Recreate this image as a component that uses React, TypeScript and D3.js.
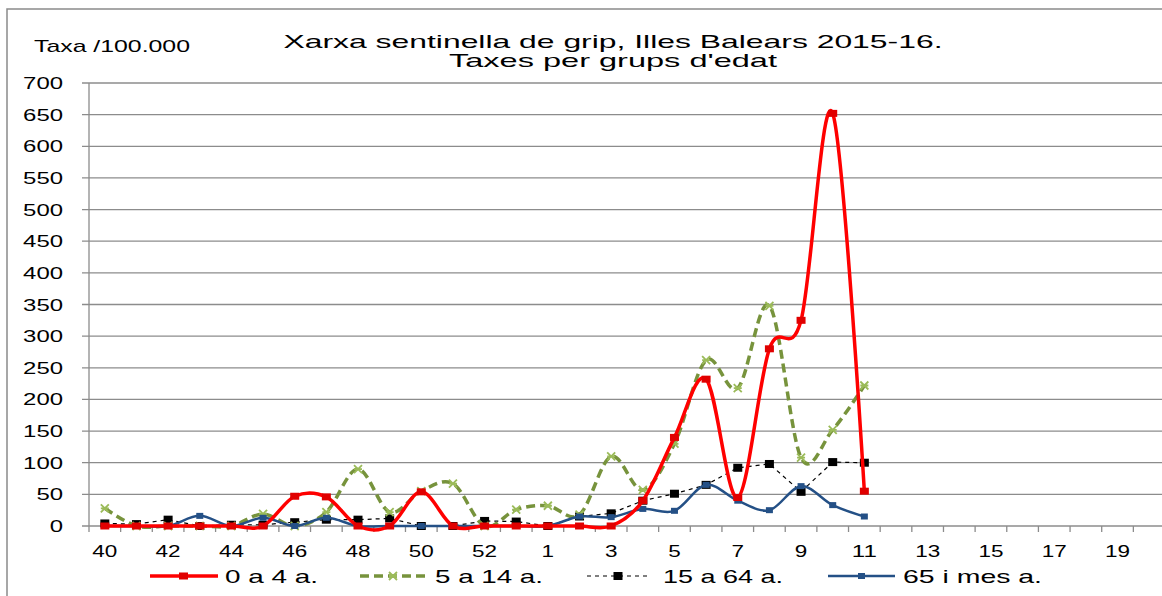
import React from 'react';
import * as d3 from 'd3';

// setmanes epidemiològiques (40..53, 1..20)
const weeks = ['40','41','42','43','44','45','46','47','48','49','50','51','52','53',
  '1','2','3','4','5','6','7','8','9','10','11','12','13','14','15','16','17','18','19','20'];

const age0_4 = [0,0,0,0,0,0,47,46,0,0,54,0,0,0,0,0,0,40,140,232,45,280,325,652,55];
const age5_14 = [28,0,0,0,0,19,0,22,90,22,55,67,0,26,32,18,110,57,130,262,218,348,108,152,222];
const age15_64 = [4,3,10,0,2,2,6,10,10,12,0,0,8,7,0,15,20,40,51,65,92,98,54,101,100];
const age65 = [0,0,0,16,0,13,0,13,0,0,0,0,0,0,0,15,14,27,24,65,40,25,63,33,15];

const yTicks = d3.range(0, 701, 50);

const W = 1162, H = 596;
const left = 89, right = 1165, top = 83, bottom = 526;

export default function App() {
  const x = d3.scaleBand().domain(weeks).range([left, right]);
  const y = d3.scaleLinear().domain([0, 700]).range([bottom, top]);
  const cx = (i: number) => (x(weeks[i]) as number) + x.bandwidth() / 2;

  const smooth = d3.line<number>().x((d, i) => cx(i)).y(d => y(d)).curve(d3.curveCardinal.tension(0));
  const straight = d3.line<number>().x((d, i) => cx(i)).y(d => y(d));

  const xMark = (px: number, py: number, k: string) => (
    <path key={k} d={`M${px-4},${py-4}L${px+4},${py+4}M${px-4},${py+4}L${px+4},${py-4}M${px-4},${py}L${px+4},${py}`}
      stroke="#9BBB59" strokeWidth={1.8} fill="none" />
  );

  const font = 'Liberation Sans, Arial, sans-serif';

  return (
    <svg width={W} height={H} style={{ position: 'absolute', left: 0, top: 0, background: '#fff' }} fontFamily={font}>
      <rect x={7} y={9} width={1170} height={600} fill="#fff" stroke="#8a8a8a" strokeWidth={1.5} />

      <text x={34} y={52} fontSize={17} textLength={156} lengthAdjust="spacingAndGlyphs">Taxa /100.000</text>
      <text x={613} y={48} fontSize={19} textAnchor="middle" textLength={659} lengthAdjust="spacingAndGlyphs">
        Xarxa sentinella de grip, Illes Balears 2015-16.
      </text>
      <text x={613} y={67} fontSize={19} textAnchor="middle" textLength={328} lengthAdjust="spacingAndGlyphs">
        Taxes per grups d'edat
      </text>

      {/* graella */}
      {yTicks.map(t => (
        <g key={t}>
          <line x1={left - 7} x2={W} y1={y(t)} y2={y(t)} stroke="#8c8c8c" strokeWidth={1.3} />
          <text x={63} y={y(t) + 6} fontSize={16} textAnchor="end"
            textLength={String(t).length * 13.3} lengthAdjust="spacingAndGlyphs">{t}</text>
        </g>
      ))}
      <line x1={left} x2={left} y1={top} y2={bottom} stroke="#8c8c8c" strokeWidth={1.3} />
      {weeks.map((w, i) => (
        <line key={'t' + w} x1={x(w) as number} x2={x(w) as number} y1={bottom} y2={bottom + 6} stroke="#8c8c8c" strokeWidth={1.3} />
      ))}
      {weeks.map((w, i) => i % 2 === 0 ? (
        <text key={'l' + w} x={cx(i)} y={557} fontSize={16} textAnchor="middle"
          textLength={w.length * 12.5} lengthAdjust="spacingAndGlyphs">{w}</text>
      ) : null)}

      {/* sèries */}
      <path d={straight(age15_64) || ''} fill="none" stroke="#000" strokeWidth={1.2} strokeDasharray="4,4" />
      {age15_64.map((v, i) => <rect key={'b' + i} x={cx(i) - 4.5} y={y(v) - 4} width={9} height={8} fill="#000" />)}

      <path d={smooth(age5_14) || ''} fill="none" stroke="#77933C" strokeWidth={3.5} strokeDasharray="9,5" />
      {age5_14.map((v, i) => xMark(cx(i), y(v), 'g' + i))}

      <path d={smooth(age65) || ''} fill="none" stroke="#245086" strokeWidth={2.5} />
      {age65.map((v, i) => <rect key={'u' + i} x={cx(i) - 3.5} y={y(v) - 3} width={7} height={6} fill="#245086" />)}

      <path d={smooth(age0_4) || ''} fill="none" stroke="#FF0000" strokeWidth={3.5} />
      {age0_4.map((v, i) => <rect key={'r' + i} x={cx(i) - 4.5} y={y(v) - 3.5} width={9} height={7} fill="#E00000" />)}

      {/* llegenda */}
      <g fontSize={19}>
        <line x1={150} x2={218} y1={576} y2={576} stroke="#FF0000" strokeWidth={3.5} />
        <rect x={179} y={572.5} width={9} height={7} fill="#E00000" />
        <text x={225} y={583} textLength={93} lengthAdjust="spacingAndGlyphs">0 a 4 a.</text>

        <line x1={360} x2={427} y1={576} y2={576} stroke="#77933C" strokeWidth={3.5} strokeDasharray="9,5" />
        {xMark(393, 576, 'lg')}
        <text x={435} y={583} textLength={108} lengthAdjust="spacingAndGlyphs">5 a 14 a.</text>

        <line x1={587} x2={647} y1={576} y2={576} stroke="#000" strokeWidth={1.2} strokeDasharray="4,4" />
        <rect x={613.5} y={572} width={9} height={8} fill="#000" />
        <text x={663} y={583} textLength={120} lengthAdjust="spacingAndGlyphs">15 a 64 a.</text>

        <line x1={828} x2={895} y1={576} y2={576} stroke="#245086" strokeWidth={2.5} />
        <rect x={858} y={573} width={7} height={6} fill="#245086" />
        <text x={903} y={583} textLength={139} lengthAdjust="spacingAndGlyphs">65 i mes a.</text>
      </g>
    </svg>
  );
}
